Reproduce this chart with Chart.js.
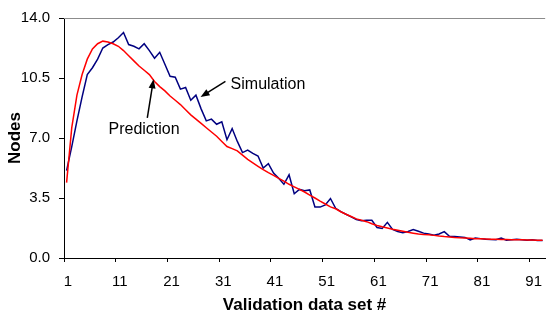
<!DOCTYPE html>
<html>
<head>
<meta charset="utf-8">
<script src="https://cdn.jsdelivr.net/npm/chart.js@4/dist/chart.umd.min.js"></script>
<style>
  html, body { margin: 0; padding: 0; background: #fff; }
  #wrap { width: 549px; height: 313px; position: relative; }
</style>
</head>
<body>
<div id="wrap"><canvas id="chart"></canvas></div>
<script>
/* ========================================
   DATA
======================================== */

// validation data set numbers 1..93
const setNumbers = Array.from({ length: 93 }, (_, i) => i + 1);

const xTickLabels = ["1", "11", "21", "31", "41", "51", "61", "71", "81", "91"];
const yTicks = [0, 3.5, 7, 10.5, 14];

const simulation = [
  5.1, 6.5, 8.0, 9.4, 10.7, 11.1, 11.6, 12.25, 12.45, 12.6,
  12.85, 13.15, 12.45, 12.35, 12.2, 12.5, 12.1, 11.65, 12.0, 11.3,
  10.6, 10.55, 9.85, 9.95, 9.2, 9.5, 8.7, 8.0, 8.1, 7.8,
  7.95, 6.9, 7.55, 6.8, 6.15, 6.3, 6.1, 5.95, 5.25, 5.5,
  4.95, 4.65, 4.3, 4.85, 3.75, 4.0, 3.92, 3.97, 2.98, 2.97,
  3.1, 3.47, 2.9, 2.7, 2.55, 2.4, 2.25, 2.17, 2.2, 2.2,
  1.78, 1.72, 2.08, 1.67, 1.55, 1.48, 1.55, 1.66, 1.56, 1.45,
  1.4, 1.33, 1.4, 1.54, 1.27, 1.25, 1.23, 1.2, 1.05, 1.17,
  1.13, 1.1, 1.08, 1.07, 1.17, 1.04, 1.07, 1.09, 1.06, 1.04,
  1.07, 1.02, 1.02
];

const prediction = [
  4.4, 7.6, 9.5, 10.7, 11.6, 12.2, 12.5, 12.65, 12.6, 12.5,
  12.35, 12.1, 11.8, 11.5, 11.2, 10.95, 10.7, 10.3, 10.0, 9.75,
  9.45, 9.2, 8.95, 8.65, 8.35, 8.1, 7.85, 7.6, 7.35, 7.1,
  6.8, 6.5, 6.38, 6.25, 6.0, 5.75, 5.55, 5.35, 5.15, 4.98,
  4.82, 4.65, 4.48, 4.3, 4.15, 4.0, 3.85, 3.67, 3.5, 3.32,
  3.15, 2.98, 2.87, 2.7, 2.55, 2.42, 2.28, 2.2, 2.12, 2.0,
  1.9, 1.82, 1.75, 1.68, 1.62, 1.56, 1.5, 1.45, 1.4, 1.37,
  1.35, 1.32, 1.28, 1.25, 1.23, 1.2, 1.18, 1.17, 1.15, 1.13,
  1.12, 1.11, 1.1, 1.09, 1.08, 1.08, 1.07, 1.06, 1.06, 1.05,
  1.05, 1.04, 1.04
];

// callouts: text anchor, arrow tail, arrow tip (data coordinates)
const callouts = [
  { text: "Simulation", tx: 32.7, ty: 10.14, x1: 31.7, y1: 10.3, x2: 26.9, y2: 9.39 },
  { text: "Prediction", tx: 9.1,  ty: 7.5,   x1: 16.6, y1: 8.18, x2: 17.8, y2: 10.42 }
];

/* ========================================
   HELPERS
======================================== */

const FONT = "'Liberation Sans', Arial, sans-serif";

function toPoints(arr) {
  return arr.map((v, i) => ({ x: setNumbers[i], y: v }));
}

// gray line along top of plot
const topBorder = {
  id: "topBorder",
  afterDraw(chart) {
    const { ctx, chartArea } = chart;
    ctx.save();
    ctx.strokeStyle = "#8c8c8c";
    ctx.lineWidth = 1;
    ctx.beginPath();
    ctx.moveTo(chartArea.left, chartArea.top + 0.5);
    ctx.lineTo(chartArea.right, chartArea.top + 0.5);
    ctx.stroke();
    ctx.restore();
  }
};

// text + arrow annotations
const calloutPlugin = {
  id: "callouts",
  afterDatasetsDraw(chart) {
    const { ctx, scales } = chart;
    const xs = scales.x, ys = scales.y;
    ctx.save();
    callouts.forEach(c => {
      const ax = xs.getPixelForValue(c.x1), ay = ys.getPixelForValue(c.y1);
      const bx = xs.getPixelForValue(c.x2), by = ys.getPixelForValue(c.y2);
      const ang = Math.atan2(by - ay, bx - ax);
      const head = 9, wid = 3.5;
      ctx.strokeStyle = "#000";
      ctx.fillStyle = "#000";
      ctx.lineWidth = 1.5;
      ctx.beginPath();
      ctx.moveTo(ax, ay);
      ctx.lineTo(bx - Math.cos(ang) * head * 0.8, by - Math.sin(ang) * head * 0.8);
      ctx.stroke();
      ctx.beginPath();
      ctx.moveTo(bx, by);
      ctx.lineTo(bx - Math.cos(ang) * head - Math.sin(ang) * wid, by - Math.sin(ang) * head + Math.cos(ang) * wid);
      ctx.lineTo(bx - Math.cos(ang) * head + Math.sin(ang) * wid, by - Math.sin(ang) * head - Math.cos(ang) * wid);
      ctx.closePath();
      ctx.fill();

      ctx.font = "16px " + FONT;
      ctx.fillStyle = "#000";
      ctx.textAlign = "left";
      ctx.textBaseline = "middle";
      ctx.fillText(c.text, xs.getPixelForValue(c.tx), ys.getPixelForValue(c.ty));
    });
    ctx.restore();
  }
};

/* ========================================
   CHART
======================================== */

new Chart(document.getElementById("chart"), {
  type: "line",
  data: {
    datasets: [
      {
        label: "Prediction",
        data: toPoints(prediction),
        borderColor: "#ff0000",
        borderWidth: 1.5,
        pointRadius: 0,
        tension: 0,
        order: 0
      },
      {
        label: "Simulation",
        data: toPoints(simulation),
        borderColor: "#000080",
        borderWidth: 1.5,
        pointRadius: 0,
        tension: 0,
        order: 1
      }
    ]
  },
  options: {
    responsive: true,
    maintainAspectRatio: false,
    animation: false,
    layout: { padding: { top: 15, right: 0, left: 0, bottom: 0 } },
    plugins: {
      legend: { display: false },
      tooltip: { enabled: false }
    },
    scales: {
      x: {
        type: "linear",
        min: 0.5,
        max: 93.5,
        afterBuildTicks: scale => {
          // tick marks sit on the boundaries before 1, 11, 21 ...
          scale.ticks = xTickLabels.map(t => ({ value: Number(t) - 0.5 }));
        },
        afterFit: scale => { scale.height = 55; },
        ticks: {
          autoSkip: false,
          maxRotation: 0,
          padding: 11,
          labelOffset: 4,
          color: "#000",
          font: { family: FONT, size: 15 },
          callback: (v, i) => xTickLabels[i]
        },
        grid: {
          drawOnChartArea: false,
          drawTicks: true,
          tickLength: 4,
          color: "#000"
        },
        border: { color: "#000", width: 1 },
        title: {
          display: true,
          text: "Validation data set #",
          color: "#000",
          font: { family: FONT, size: 17, weight: "bold", lineHeight: 0.9 },
          padding: { top: 0, bottom: 0 }
        }
      },
      y: {
        min: 0,
        max: 14,
        afterBuildTicks: scale => {
          scale.ticks = yTicks.map(v => ({ value: v }));
        },
        afterFit: scale => { scale.width = 64; },
        ticks: {
          padding: 9,
          color: "#000",
          font: { family: FONT, size: 15 },
          callback: v => v.toFixed(1)
        },
        grid: {
          drawOnChartArea: false,
          drawTicks: true,
          tickLength: 5,
          color: "#000"
        },
        border: { color: "#000", width: 1 },
        title: {
          display: true,
          text: "Nodes",
          color: "#000",
          font: { family: FONT, size: 17, weight: "bold" },
          padding: { top: 5, bottom: 0 }
        }
      }
    }
  },
  plugins: [topBorder, calloutPlugin]
});
</script>
</body>
</html>
